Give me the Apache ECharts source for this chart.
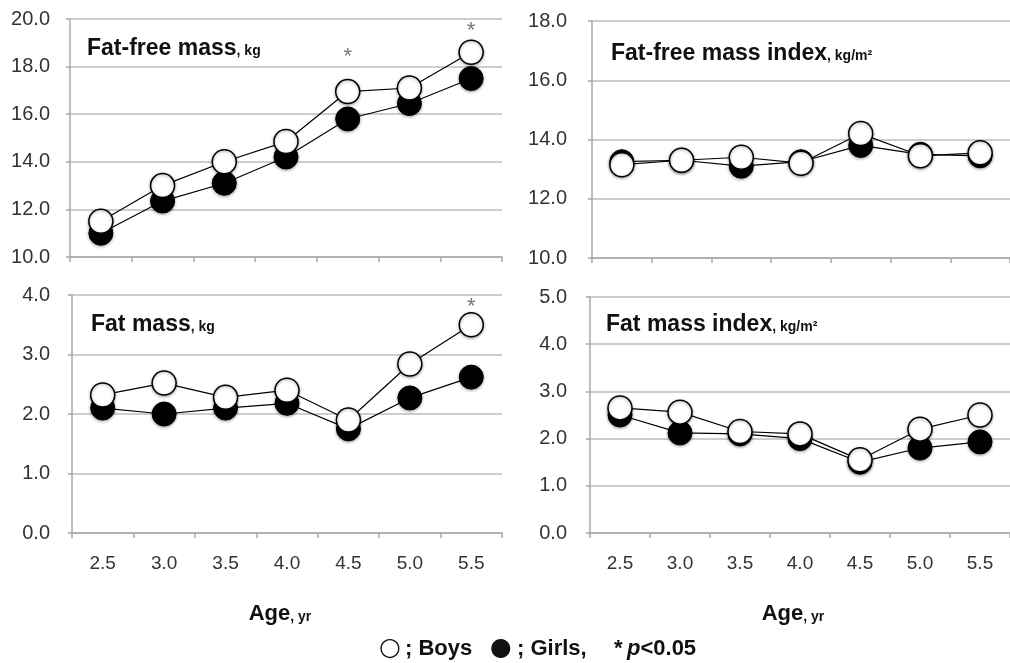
<!DOCTYPE html>
<html>
<head>
<meta charset="utf-8">
<script src="https://cdn.jsdelivr.net/npm/echarts@6/dist/echarts.min.js"></script>
<style>html,body{margin:0;padding:0;background:#fff;}#c{width:1010px;height:663px;}</style>
</head>
<body>
<div id="c"></div>
<script>
const ages = ['2.5', '3.0', '3.5', '4.0', '4.5', '5.0', '5.5'];
const ffmBoys  = [11.5, 13.0, 14.0, 14.85, 16.95, 17.1, 18.6];
const ffmGirls = [11.0, 12.35, 13.1, 14.2, 15.8, 16.45, 17.5];
const ffmSig   = [null, null, null, null, 18.6, null, 19.7];
const ffmiBoys  = [13.15, 13.3, 13.4, 13.2, 14.2, 13.45, 13.55];
const ffmiGirls = [13.25, 13.3, 13.1, 13.25, 13.8, 13.5, 13.45];
const fmBoys  = [2.32, 2.52, 2.28, 2.4, 1.9, 2.84, 3.5];
const fmGirls = [2.1, 2.0, 2.1, 2.18, 1.75, 2.27, 2.62];
const fmSig   = [null, null, null, null, null, null, 3.88];
const fmiBoys  = [2.65, 2.56, 2.15, 2.1, 1.55, 2.2, 2.5];
const fmiGirls = [2.5, 2.12, 2.1, 2.0, 1.5, 1.8, 1.93];

const FONT = '"Liberation Sans", Arial, sans-serif';
const axisGrey = '#a8a8a8';
const gridGrey = '#bdbdbd';

const grids = [
  {left: 70, top: 19, width: 432, height: 238},
  {left: 592, top: 21, width: 426, height: 237},
  {left: 72, top: 295, width: 430, height: 238},
  {left: 590, top: 297, width: 428, height: 236}
];
const yRanges = [[10, 20, 2, 20], [10, 18, 2, 25], [0, 4, 1, 22], [0, 5, 1, 23]];

const xAxes = grids.map((g, i) => ({
  gridIndex: i, type: 'category', data: ages, boundaryGap: true,
  axisLine: {lineStyle: {color: axisGrey, width: 1.5}},
  axisTick: {show: true, length: 5, inside: false, lineStyle: {color: axisGrey, width: 1.5}},
  axisLabel: {show: i >= 2, margin: 21, fontSize: 19, color: '#333', fontFamily: FONT},
  splitLine: {show: false},
  name: i >= 2 ? '{a|Age}{b|, yr}' : '',
  nameLocation: 'middle', nameGap: 70,
  nameTextStyle: {padding: [0, 14, 0, 0], rich: {
    a: {fontSize: 22, fontWeight: 'bold', color: '#111', fontFamily: FONT},
    b: {fontSize: 14, fontWeight: 'bold', color: '#111', fontFamily: FONT, padding: [6, 0, 0, 0]}
  }}
}));
const yAxes = yRanges.map((r, i) => ({
  gridIndex: i, type: 'value', min: r[0], max: r[1], interval: r[2],
  axisLine: {show: true, lineStyle: {color: axisGrey, width: 1.5}},
  axisTick: {show: true, length: 4, lineStyle: {color: axisGrey, width: 1.5}},
  axisLabel: {margin: r[3], fontSize: 20, color: '#333', fontFamily: FONT,
              formatter: v => v.toFixed(1)},
  splitLine: {show: true, lineStyle: {color: gridGrey, width: 1.5}}
}));

function girls(data, idx) {
  return {type: 'line', xAxisIndex: idx, yAxisIndex: idx, data: data,
    symbol: 'circle', symbolSize: 24, z: 2,
    lineStyle: {color: '#000', width: 1.2},
    itemStyle: {color: '#000', borderColor: '#000', borderWidth: 1,
                shadowBlur: 3, shadowColor: 'rgba(0,0,0,0.35)', shadowOffsetY: 1},
    emphasis: {disabled: true}, animation: false};
}
function boys(data, idx) {
  return {type: 'line', xAxisIndex: idx, yAxisIndex: idx, data: data,
    symbol: 'circle', symbolSize: 24, z: 3,
    lineStyle: {color: '#000', width: 1.2},
    itemStyle: {color: '#fff', borderColor: '#000', borderWidth: 1.5,
                shadowBlur: 3, shadowColor: 'rgba(0,0,0,0.35)', shadowOffsetY: 1},
    emphasis: {disabled: true}, animation: false};
}
function sig(data, idx) {
  return {type: 'scatter', xAxisIndex: idx, yAxisIndex: idx, data: data,
    symbolSize: 1, itemStyle: {color: 'rgba(0,0,0,0)'}, z: 4,
    label: {show: true, formatter: '*', position: 'inside', offset: [0, 5],
            fontSize: 22, color: '#555', fontFamily: FONT},
    emphasis: {disabled: true}, animation: false};
}

const richTitle = {
  a: {fontSize: 23, fontWeight: 'bold', color: '#111', fontFamily: FONT},
  b: {fontSize: 14, fontWeight: 'bold', color: '#111', fontFamily: FONT, padding: [6, 0, 0, 0]}
};
const legTxt = {fontSize: 22, fontWeight: 'bold', color: '#111', fontFamily: FONT};
const legSym = {fontSize: 25, color: '#111', fontFamily: '"DejaVu Sans", sans-serif'};

const option = {
  backgroundColor: '#fff',
  animation: false,
  title: [
    {text: '{a|Fat-free mass}{b|, kg}', left: 87, top: 37, padding: 0, textStyle: {rich: richTitle}},
    {text: '{a|Fat-free mass index}{b|, kg/m²}', left: 611, top: 42, padding: 0, textStyle: {rich: richTitle}},
    {text: '{a|Fat mass}{b|, kg}', left: 91, top: 313, padding: 0, textStyle: {rich: richTitle}},
    {text: '{a|Fat mass index}{b|, kg/m²}', left: 606, top: 313, padding: 0, textStyle: {rich: richTitle}},
    {text: '○', left: 379, top: 636, padding: 0, textStyle: legSym},
    {text: '; Boys', left: 405, top: 638, padding: 0, textStyle: legTxt},
    {text: '●', left: 490, top: 636, padding: 0, textStyle: legSym},
    {text: '; Girls,', left: 517, top: 638, padding: 0, textStyle: legTxt},
    {text: '*', left: 614, top: 638, padding: 0, textStyle: legTxt},
    {text: '{i|p}{t|<0.05}', left: 627, top: 638, padding: 0,
     textStyle: {rich: {t: legTxt, i: Object.assign({}, legTxt, {fontStyle: 'italic'})}}}
  ],
  grid: grids,
  xAxis: xAxes,
  yAxis: yAxes,
  series: [
    girls(ffmGirls, 0), boys(ffmBoys, 0), sig(ffmSig, 0),
    girls(ffmiGirls, 1), boys(ffmiBoys, 1),
    girls(fmGirls, 2), boys(fmBoys, 2), sig(fmSig, 2),
    girls(fmiGirls, 3), boys(fmiBoys, 3)
  ]
};

const chart = echarts.init(document.getElementById('c'), null, {renderer: 'canvas'});
chart.setOption(option);
</script>
</body>
</html>
